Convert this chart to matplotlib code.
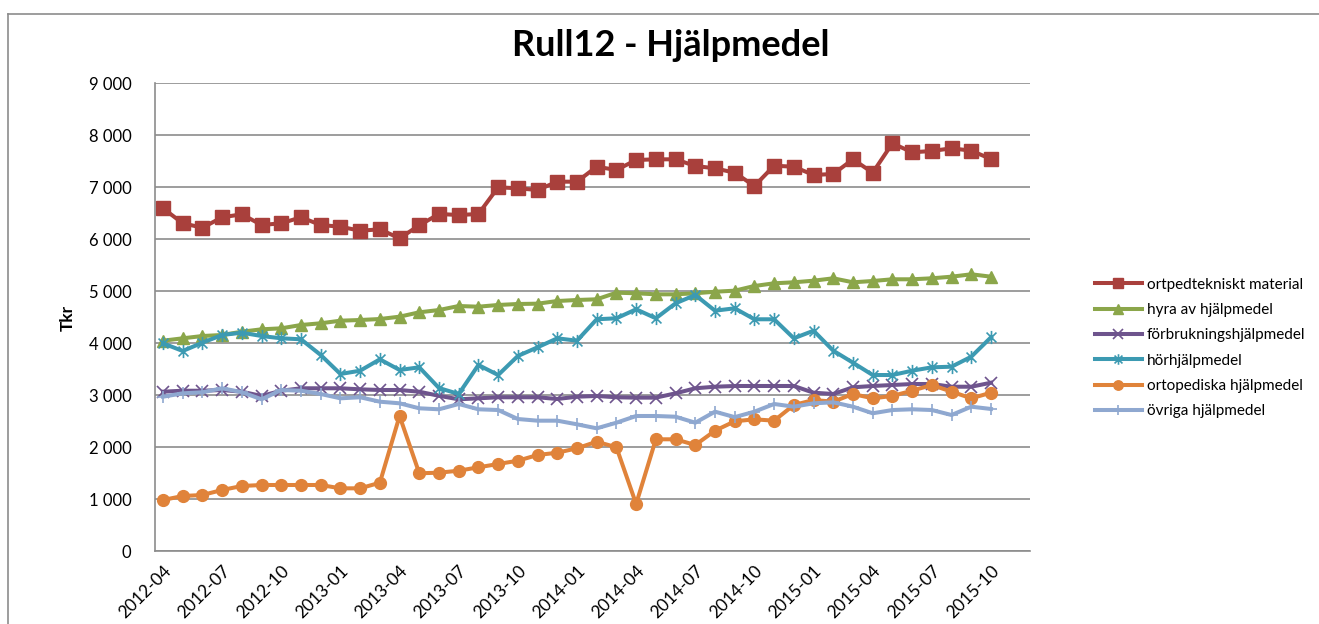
import matplotlib
matplotlib.use("Agg")
import matplotlib.pyplot as plt
from matplotlib.path import Path
from matplotlib.lines import Line2D
from matplotlib.ticker import FuncFormatter, MultipleLocator

plt.rcParams['font.family'] = ['Lato', 'DejaVu Sans']

months = ["2012-04","2012-05","2012-06","2012-07","2012-08","2012-09","2012-10","2012-11","2012-12",
          "2013-01","2013-02","2013-03","2013-04","2013-05","2013-06","2013-07","2013-08","2013-09",
          "2013-10","2013-11","2013-12","2014-01","2014-02","2014-03","2014-04","2014-05","2014-06",
          "2014-07","2014-08","2014-09","2014-10","2014-11","2014-12","2015-01","2015-02","2015-03",
          "2015-04","2015-05","2015-06","2015-07","2015-08","2015-09","2015-10"]

ortpedtekniskt = [6596,6308,6223,6423,6481,6275,6308,6423,6275,6242,6165,6192,6019,6269,6487,6467,6487,
                  7000,6981,6948,7108,7108,7396,7333,7525,7538,7538,7410,7365,7281,7025,7415,7396,7237,
                  7256,7538,7281,7846,7673,7698,7750,7704,7544]
hyra = [4050,4096,4140,4160,4223,4269,4288,4352,4385,4435,4448,4467,4512,4596,4640,4717,4704,4737,
        4756,4762,4813,4833,4846,4973,4962,4942,4942,4962,4992,5012,5102,5154,5173,5204,5250,5173,
        5198,5231,5231,5250,5281,5327,5281]
forbrukning = [3069,3088,3088,3102,3069,2987,3088,3135,3135,3135,3115,3102,3102,3069,2990,2923,2942,
               2962,2962,2962,2929,2973,2987,2962,2955,2955,3038,3135,3165,3179,3179,3179,3179,3050,
               3025,3154,3179,3198,3217,3217,3165,3165,3242]
hor = [4000,3852,4012,4160,4204,4140,4096,4077,3775,3410,3473,3692,3487,3538,3140,3025,3583,3390,
       3756,3923,4096,4050,4462,4481,4654,4481,4769,4929,4627,4673,4462,4462,4096,4242,3858,3627,
       3390,3390,3473,3538,3550,3742,4115]
ortopediska = [987,1063,1083,1179,1256,1275,1275,1275,1275,1211,1211,1319,2602,1500,1512,1550,1615,
               1679,1742,1852,1896,1981,2108,2000,910,2154,2154,2044,2319,2500,2538,2512,2813,2910,
               2877,3025,2942,2987,3089,3198,3070,2942,3050]
ovriga = [2973,3038,3058,3135,3060,2923,3102,3088,3025,2942,2962,2877,2846,2750,2731,2833,2731,2717,
          2544,2512,2512,2442,2365,2473,2602,2602,2588,2473,2685,2580,2685,2833,2781,2846,2865,2781,
          2654,2717,2731,2717,2621,2781,2737]

series_names = ["ortpedtekniskt material", "hyra av hjälpmedel", "förbrukningshjälpmedel",
                "hörhjälpmedel", "ortopediska hjälpmedel", "övriga hjälpmedel"]

# asterisk marker (x plus vertical bar)
star_path = Path([(0, -1), (0, 1), (-0.75, -0.75), (0.75, 0.75), (-0.75, 0.75), (0.75, -0.75)],
                 [Path.MOVETO, Path.LINETO, Path.MOVETO, Path.LINETO, Path.MOVETO, Path.LINETO])

styles = [
    dict(color="#A9403C", marker="s", ms=9.5, mfc="#A9403C", mec="#A9403C"),
    dict(color="#8BA64A", marker="^", ms=8.5, mfc="#8BA64A", mec="#8BA64A"),
    dict(color="#6E548D", marker="x", ms=8.5, mew=1.2, mec="#6E548D"),
    dict(color="#3C9AB2", marker=star_path, ms=9.5, mew=1.2, mfc="none", mec="#3C9AB2"),
    dict(color="#E0833A", marker="o", ms=8.5, mfc="#E0833A", mec="#E0833A"),
    dict(color="#8FA8D0", marker="+", ms=8.5, mew=1.2, mec="#8FA8D0"),
]

W, H = 1319, 624
fig = plt.figure(figsize=(W / 100, H / 100), dpi=100)
fig.patch.set_facecolor("white")

# chart area border
fig.add_artist(Line2D([8 / W, 8 / W], [0, 1 - 14 / H], transform=fig.transFigure, color="#8C8C8C", lw=1.2))
fig.add_artist(Line2D([8 / W, 1], [1 - 14 / H, 1 - 14 / H], transform=fig.transFigure, color="#8C8C8C", lw=1.2))

left, right, top, bottom = 155, 1030, 83.3, 551.3
ax = fig.add_axes([left / W, 1 - bottom / H, (right - left) / W, (bottom - top) / H])

x = list(range(len(months)))
all_series = [ortpedtekniskt, hyra, forbrukning, hor, ortopediska, ovriga]
for name, vals, st in zip(series_names, all_series, styles):
    ax.plot(x, vals, lw=2.9, label=name, solid_joinstyle="round", **st)

spacing = 19.7
ax.set_xlim(-8 / spacing, 42 + (right - 991) / spacing)
ax.set_ylim(0, 9000)
ax.yaxis.set_major_locator(MultipleLocator(1000))
ax.yaxis.set_major_formatter(FuncFormatter(lambda v, p: f"{int(v):,}".replace(",", " ")))
ax.grid(axis="y", color="#8C8C8C", lw=1.2)
ax.set_axisbelow(True)

tick_idx = list(range(0, len(months), 3))
ax.set_xticks(tick_idx)
ax.set_xticklabels([months[i] for i in tick_idx], rotation=45, ha="right", rotation_mode="anchor",
                   fontsize=12.5)
ax.tick_params(axis="x", length=0, pad=8)
ax.tick_params(axis="y", length=0, pad=17, labelsize=12)

for s in ["top", "right"]:
    ax.spines[s].set_visible(False)
for s in ["left", "bottom"]:
    ax.spines[s].set_color("#8C8C8C")
    ax.spines[s].set_linewidth(1.2)

fig.text(68 / W, 1 - 318 / H, "Tkr", rotation=90, fontsize=12.5, fontweight="bold",
         ha="center", va="center")
fig.text(671 / W, 1 - 46 / H, "Rull12 - Hjälpmedel", fontsize=26, fontweight="bold",
         ha="center", va="center")

leg = fig.legend(loc="upper left", bbox_to_anchor=(1081 / W, 1 - 264 / H), frameon=False,
                 fontsize=11, handlelength=3.1, labelspacing=0.74, handletextpad=0.3,
                 markerscale=0.8, borderpad=0.4)

fig.savefig("out.png", dpi=100)
